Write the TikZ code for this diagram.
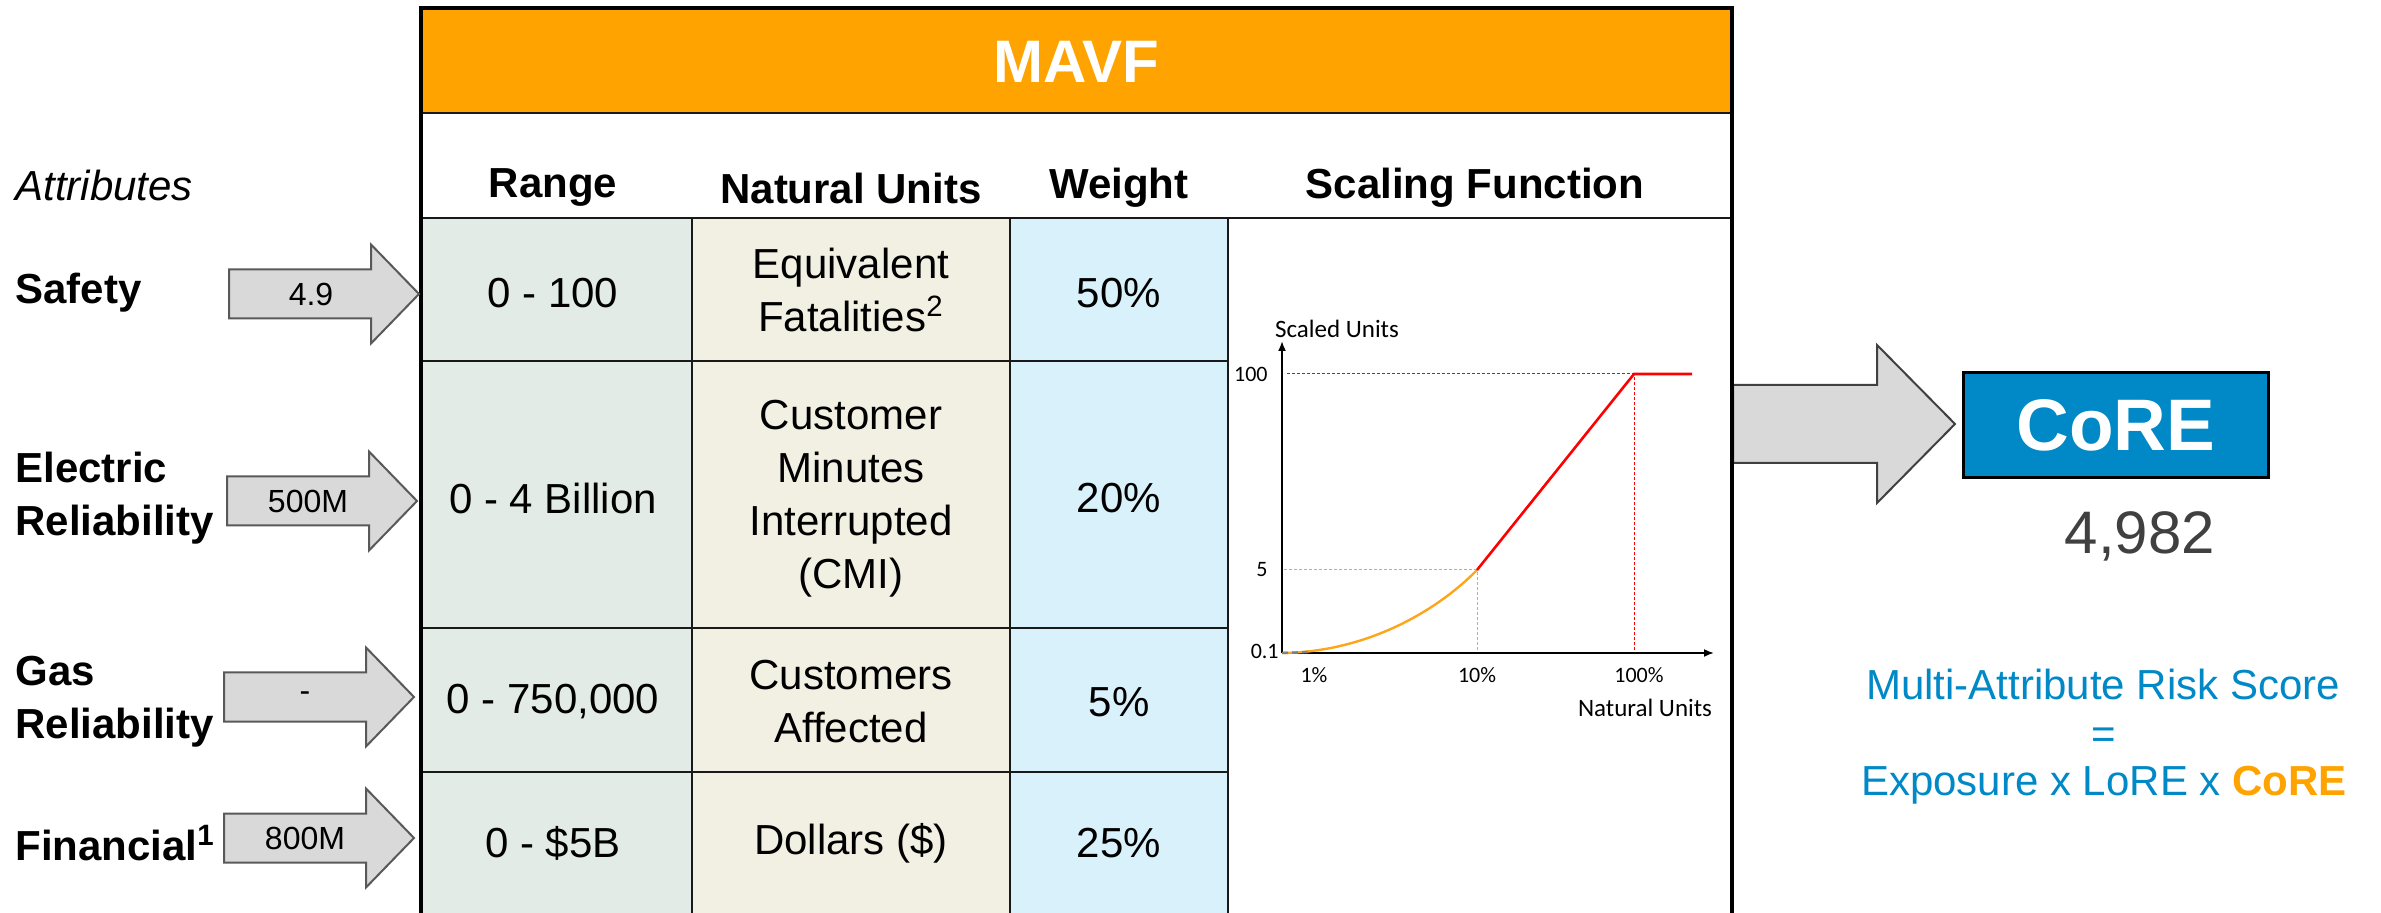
\documentclass[tikz,border=0pt]{standalone}
\usepackage{fontspec}
\setmainfont{Liberation Sans}
\newfontfamily\chartfont{Carlito}
\usetikzlibrary{arrows.meta,positioning,calc}
\usepackage{xcolor}
\definecolor{mvOrange}{HTML}{FFA300}
\definecolor{mvRange}{HTML}{E2EBE5}
\definecolor{mvUnits}{HTML}{F2EFE3}
\definecolor{mvWeight}{HTML}{D9F1FA}
\definecolor{mvArrow}{HTML}{D9D9D9}
\definecolor{mvArrowEdge}{HTML}{595959}
\definecolor{mvBlue}{HTML}{0089C6}
\definecolor{mvDark}{HTML}{404040}
\definecolor{mvCurve}{HTML}{FFA51A}
\tikzset{
    % table text
    cell/.style={inner sep=0pt, align=center, font=\fontsize{21}{26.5}\selectfont},
    headcell/.style={inner sep=0pt, align=center, font=\fontsize{21}{26.5}\selectfont\bfseries},
    attrlabel/.style={anchor=west, inner sep=0pt, align=left, font=\fontsize{21}{26.5}\selectfont\bfseries},
    arrowval/.style={inner sep=0pt, font=\fontsize{16}{19}\selectfont},
    % shapes and lines
    blockarrow/.style={draw=mvArrowEdge, fill=mvArrow, line width=1pt, line join=miter},
    gridline/.style={line width=1.4pt, draw=black!90},
    guide/.style={line width=0.5pt, dash pattern=on 1.5pt off 1pt},
    % chart text
    chartlabel/.style={inner sep=0pt, font=\chartfont\fontsize{12.5}{15}\selectfont},
    charttick/.style={inner sep=0pt, font=\chartfont\fontsize{11}{13}\selectfont},
    attrarrow/.pic={\draw[blockarrow] (0,-24.5) -- (142,-24.5) -- (142,-49.5) -- (190,0) -- (142,49.5) -- (142,24.5) -- (0,24.5) -- cycle;}
}

\begin{document}
\begin{tikzpicture}[x=0.5pt,y=-0.5pt]
    \useasboundingbox (0,0) rectangle (2381,913);

    % Column fills
    \fill[mvRange] (421,218) rectangle (692,913);
    \fill[mvUnits] (692,218) rectangle (1010,913);
    \fill[mvWeight] (1010,218) rectangle (1228,913);
    \fill[mvOrange] (421,8) rectangle (1732,113);

    % Grid
    \draw[gridline] (421,113) -- (1732,113);
    \draw[gridline] (421,218) -- (1732,218);
    \foreach \y in {361,628,772} \draw[gridline] (421,\y) -- (1228,\y);
    \foreach \x in {692,1010,1228} \draw[gridline] (\x,218) -- (\x,920);

    % Output arrow (under the frame)
    \draw[blockarrow, draw=mvDark] (1733,385) -- (1877,385) -- (1877,345) -- (1955,424) -- (1877,503) -- (1877,463) -- (1733,463) -- cycle;

    % Outer frame
    \draw[line width=2pt] (421,920) -- (421,8) -- (1732,8) -- (1732,920);

    % Title
    \node[inner sep=0pt, font=\fontsize{30}{36}\selectfont\bfseries, text=white] (title) at (1076,62) {MAVF};

    % Header row
    \node[headcell] (hRange) at (553,188) {Range};
    \node[headcell] (hUnits) at (851,188) {Natural Units};
    \node[headcell] (hWeight) at (1119,188) {Weight};
    \node[headcell] (hScale) at (1475,188) {Scaling Function};

    % Attributes
    \node[attrlabel, font=\fontsize{21}{26.5}\selectfont\itshape] (attrHead) at (15,185) {Attributes};
    \node[attrlabel] (safety) at (15,293) {Safety};
    \node[attrlabel] (elec) at (15,498) {Electric\\Reliability};
    \node[attrlabel] (gas) at (15,702) {Gas\\Reliability};
    \node[attrlabel] (fin) at (15,843) {Financial\textsuperscript{1}};

    % Input arrows
    \pic at (229,294) {attrarrow};
    \node[arrowval] (safetyVal) at (311,294) {4.9};
    \pic at (227,501) {attrarrow};
    \node[arrowval] (elecVal) at (308,501) {500M};
    \pic at (224,697) {attrarrow};
    \node[arrowval] (gasVal) at (305,697) {-};
    \pic at (224,838) {attrarrow};
    \node[arrowval] (finVal) at (305,838) {800M};

    % Table cells
    \node[cell] (r1) at (553,293) {0 - 100};
    \node[cell] (u1) at (851,290) {Equivalent\\Fatalities\textsuperscript{2}};
    \node[cell] (w1) at (1119,293) {50\%};
    \node[cell] (r2) at (553,498) {0 - 4 Billion};
    \node[cell] (u2) at (851,499) {Customer\\Minutes\\Interrupted\\(CMI)};
    \node[cell] (w2) at (1119,498) {20\%};
    \node[cell] (r3) at (553,702) {0 - 750,000};
    \node[cell] (u3) at (851,702) {Customers\\Affected};
    \node[cell] (w3) at (1119,702) {5\%};
    \node[cell] (r4) at (553,843) {0 - \$5B};
    \node[cell] (u4) at (851,843) {Dollars (\$)};
    \node[cell] (w4) at (1119,843) {25\%};

    % Scaling function chart
    \coordinate (origin) at (1282,653);
    \coordinate (yTop) at (1282,341);
    \coordinate (xEnd) at (1714,653);
    \coordinate (knee) at (1477,570);
    \coordinate (cap) at (1634,374);
    \coordinate (capEnd) at (1692,374);
    \draw[guide, red] (1287,374) -- (cap) -- (1634,653);
    \draw[guide, mvCurve] (1284,570) -- (knee) -- (1477,653);
    \draw[line width=0.9pt, -{Latex[length=5pt,width=4pt]}] (origin) -- (yTop);
    \draw[line width=0.9pt, -{Latex[length=5pt,width=4pt]}] (origin) -- (xEnd);
    \draw[mvCurve, line width=1.2pt] (origin) .. controls (1370,652) and (1440,608) .. (knee);
    \draw[gray, line width=1.2pt, dash pattern=on 3pt off 2pt] (origin) -- (1310,652);
    \draw[red, line width=1.3pt] (knee) -- (cap) -- (capEnd);
    \node[chartlabel] (yTitle) at (1337,329) {Scaled Units};
    \node[charttick, anchor=east] (t100) at (1268,374) {100};
    \node[charttick, anchor=east] (t5) at (1268,570) {5};
    \node[charttick, anchor=east] (t01) at (1279,651) {0.1};
    \node[charttick] (p1) at (1314,675) {1\%};
    \node[charttick] (p10) at (1477,675) {10\%};
    \node[charttick] (p100) at (1639,675) {100\%};
    \node[chartlabel] (xTitle) at (1645,708) {Natural Units};

    % Result
    \node[draw=black, line width=1.5pt, fill=mvBlue, minimum width=152.5pt, minimum height=52.5pt, text=white, font=\fontsize{36.5}{40}\selectfont\bfseries] (core) at (2116,425) {CoRE};
    \node[inner sep=0pt, font=\fontsize{30}{36}\selectfont, text=mvDark] (score) at (2140,536) {4,982};
    \node[inner sep=0pt, font=\fontsize{21}{26}\selectfont, text=mvBlue] (marsLine) at (2103,684) {Multi-Attribute Risk Score};
    \node[inner sep=0pt, font=\fontsize{21}{26}\selectfont, text=mvBlue] (eqLine) at (2104,738) {=};
    \node[inner sep=0pt, font=\fontsize{21}{26}\selectfont, text=mvBlue] (formLine) at (2104,785) {Exposure x LoRE x \textbf{\color{mvOrange}CoRE}};
\end{tikzpicture}
\end{document}
